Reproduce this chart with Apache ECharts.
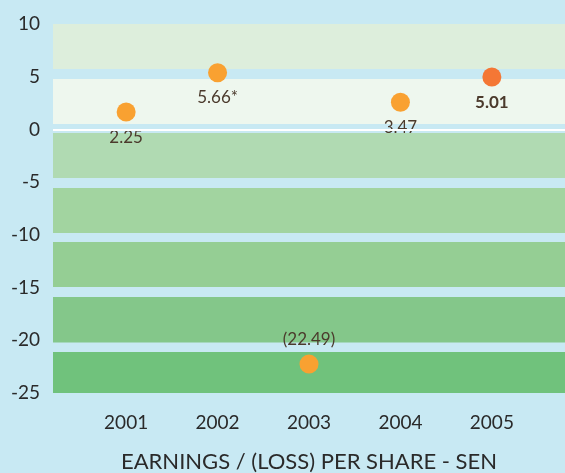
<!DOCTYPE html>
<html>
<head>
<meta charset="utf-8">
<script src="https://cdn.jsdelivr.net/npm/echarts@6/dist/echarts.min.js"></script>
<style>
  html, body { margin: 0; padding: 0; background: #c8e9f3; }
  #main { width: 565px; height: 473px; }
</style>
</head>
<body>
<div id="main"></div>
<script>
// data
const years = [2001, 2002, 2003, 2004, 2005];
const eps = [1.65, 5.38, -22.26, 2.57, 4.97];        // where the dots sit
const epsLabels = ['2.25', '5.66*', '(22.49)', '3.47', '5.01'];
const yTicks = [10, 5, 0, -5, -10, -15, -20, -25];
// background bands (value ranges)
const bandTop = [10, 4.78, -0.34, -5.56, -10.68, -15.9, -21.1];
const bandBottom = [5.73, 0.51, -4.61, -9.83, -14.95, -20.2, -25];

const bandColors = ['#ddeedc', '#eef7ee', '#b0dab2', '#a2d4a0', '#95ce94', '#84c78a', '#70c27c'];
const textColor = '#2a2a2a';
const labelColor = '#4b3a2c';
const fontFamily = 'Lato, "Noto Sans", sans-serif';

const chart = echarts.init(document.getElementById('main'));

const points = years.map((yr, i) => {
  const last = i === years.length - 1;
  const neg = eps[i] < 0;
  return {
    value: [yr, eps[i]],
    itemStyle: { color: last ? '#f47735' : '#f9a131', opacity: 1 },
    label: {
      show: true,
      formatter: epsLabels[i],
      position: neg ? 'top' : 'bottom',
      distance: 7,
      fontWeight: last ? 'bold' : 'normal',
      color: labelColor,
      fontSize: 17,
      fontFamily: fontFamily
    }
  };
});

const option = {
  backgroundColor: '#c8e9f3',
  animation: false,
  grid: { left: 53, right: 0, top: 24, bottom: 80, containLabel: false, outerBoundsMode: 'none' },
  xAxis: {
    type: 'value',
    min: 2000.2,
    max: 2005.8,
    splitLine: { show: false },
    axisLine: { show: false },
    axisTick: { show: false },
    axisLabel: {
      customValues: years,
      formatter: v => String(v),
      color: textColor,
      fontSize: 19,
      fontFamily: fontFamily,
      margin: 20
    },
    name: 'EARNINGS / (LOSS) PER SHARE - SEN',
    nameLocation: 'middle',
    nameGap: 58,
    nameTextStyle: { color: textColor, fontSize: 22, fontFamily: fontFamily }
  },
  yAxis: {
    type: 'value',
    min: -25,
    max: 10,
    interval: 5,
    splitLine: { show: false },
    axisLine: { show: false },
    axisTick: { show: false },
    axisLabel: {
      customValues: yTicks,
      color: textColor,
      fontSize: 19,
      fontFamily: fontFamily,
      margin: 13
    }
  },
  series: [
    {
      type: 'scatter',
      symbolSize: 19,
      data: points,
      markArea: {
        silent: true,
        data: bandTop.map((t, i) => [
          { yAxis: t, itemStyle: { color: bandColors[i], opacity: 1 } },
          { yAxis: bandBottom[i] }
        ])
      },
      markLine: {
        silent: true,
        symbol: 'none',
        label: { show: false },
        lineStyle: { color: '#ffffff', width: 2, type: 'solid', opacity: 1 },
        data: [{ yAxis: 0 }]
      }
    }
  ]
};

chart.setOption(option);
</script>
</body>
</html>
